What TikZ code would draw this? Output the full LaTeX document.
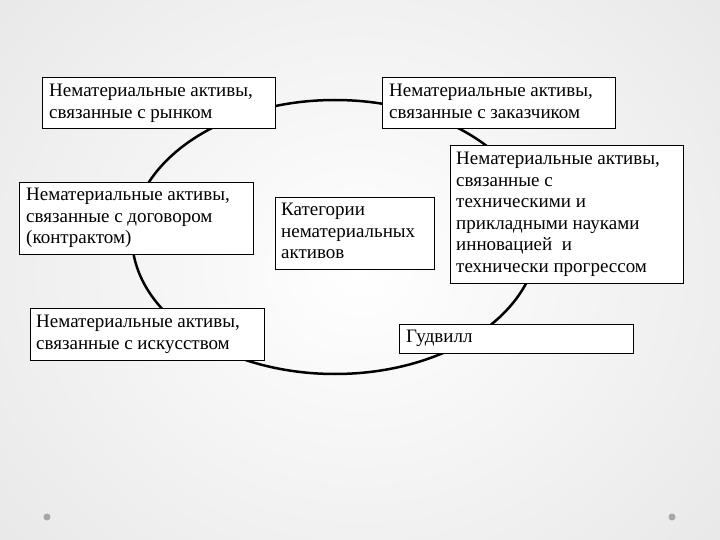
\documentclass[tikz,border=0pt]{standalone}
\usepackage{fontspec}
\setmainfont{Liberation Serif}
\begin{document}
\begin{tikzpicture}[x=1pt,y=-1pt,
 box/.style={draw=black,line width=1.3pt,fill=white,anchor=north west,inner sep=0pt},
 txt/.style={anchor=north west,align=left,inner sep=0pt,font=\fontsize{19}{21.5}\selectfont},
 dot/.style={circle,fill=gray!70,inner sep=0pt,minimum size=7pt}]
\useasboundingbox (0,0) rectangle (720,540);
\begin{scope}
\clip (0,0) rectangle (720,540);
\shade[inner color=white,outer color=gray!18] (-120,-160) rectangle (840,700);
\end{scope}
\node[dot] (d1) at (47,517) {};
\node[dot] (d2) at (672,517) {};
\draw[line width=2.5pt] (335,237) ellipse [x radius=203,y radius=137];
\node[box,minimum width=233,minimum height=51] (b1) at (42,77) {};
\node[txt] (t1) at (49,84) {Нематериальные активы,\\связанные с рынком};
\node[box,minimum width=233,minimum height=51] (b2) at (382,77) {};
\node[txt] (t2) at (389,84) {Нематериальные активы,\\связанные с заказчиком};
\node[box,minimum width=234,minimum height=72] (b3) at (19,182) {};
\node[txt] (t3) at (26,188) {Нематериальные активы,\\связанные с договором\\(контрактом)};
\node[box,minimum width=159,minimum height=72] (b4) at (275,197) {};
\node[txt] (t4) at (281,203) {Категории\\нематериальных\\активов};
\node[box,minimum width=233,minimum height=138] (b5) at (450,145) {};
\node[txt] (t5) at (456,152) {Нематериальные активы,\\связанные с\\техническими и\\прикладными науками\\инновацией\ \ и\\технически прогрессом};
\node[box,minimum width=234,minimum height=52] (b6) at (30,308) {};
\node[txt] (t6) at (36,315) {Нематериальные активы,\\связанные с искусством};
\node[box,minimum width=234,minimum height=29] (b7) at (399,324) {};
\node[txt] (t7) at (406,330) {Гудвилл};
\end{tikzpicture}
\end{document}
